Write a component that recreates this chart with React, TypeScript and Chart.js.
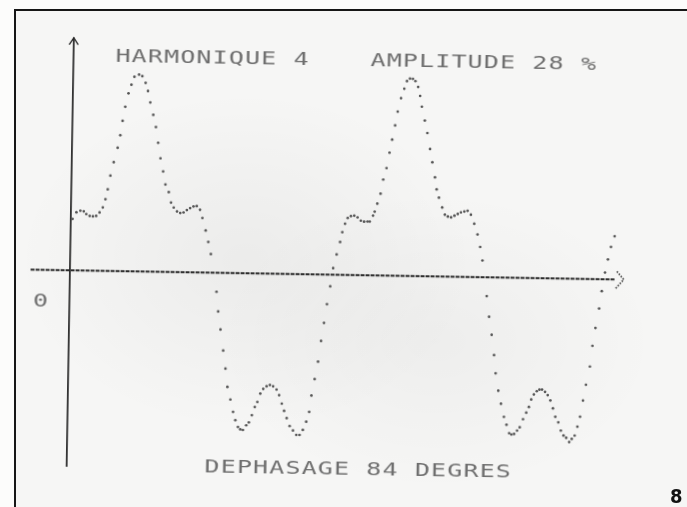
import { useEffect, useRef } from "react";
import { Chart, registerables } from "chart.js";

Chart.register(...registerables);

// ---- waveform samples: phase in degrees of the fundamental, value in % of its amplitude ----
const crest1Deg = [2.3, 7.3, 12.5, 17.0, 20.4, 24.9, 29.2, 33.5, 37.9, 42.1, 45.4, 48.2, 51.4, 55.5, 60.4, 63.6, 66.3, 69.5, 73.5, 77.2, 81.0, 87.1, 91.4, 95.9, 99.2, 102.5, 106.7, 110.5, 113.8, 117.2, 121.0, 124.3, 128.9, 132.1, 135.8, 140.2, 144.5, 148.9, 153.2, 157.5, 161.9, 166.2, 170.6, 173.9, 178.5, 182.2, 185.9];
const crest1Pct = [33.5, 37.8, 38.9, 38.5, 36.8, 35.6, 35.4, 35.7, 38.0, 41.3, 46.7, 53.1, 62.1, 70.9, 80.3, 88.5, 97.9, 107.1, 115.9, 121.5, 126.7, 128.2, 127.2, 122.9, 117.6, 110.2, 102.1, 94.2, 84.0, 73.9, 65.4, 56.9, 52.0, 45.2, 42.0, 39.5, 38.5, 38.9, 40.5, 41.8, 42.9, 43.2, 40.8, 35.5, 27.4, 20.0, 12.1];

const trough1Deg = [194.2, 196.8, 200.3, 204.3, 207.7, 210.7, 214.9, 218.7, 221.9, 225.5, 228.6, 232.1, 236.4, 239.8, 243.6, 247.3, 250.6, 254.3, 258.1, 262.5, 266.8, 271.1, 275.7, 279.2, 282.9, 286.1, 289.7, 293.8, 298.3, 302.8, 307.1, 311.3, 315.6, 319.3, 321.9, 325.8, 329.9, 333.4, 336.9, 340.4, 344.3, 347.8, 352.1];
const trough1Pct = [-12.4, -25.2, -36.9, -50.6, -62.3, -74.2, -82.4, -90.4, -95.8, -100.2, -101.7, -102.1, -99.0, -97.1, -92.4, -87.0, -83.7, -78.2, -75.1, -73.4, -72.5, -73.3, -75.4, -79.0, -84.5, -89.2, -93.9, -99.0, -101.9, -104.7, -104.7, -101.4, -96.0, -89.6, -78.9, -68.2, -56.8, -43.3, -31.5, -19.3, -7.6, 4.3, 13.2];

const crest2Deg = [356.4, 359.1, 362.5, 365.9, 370.1, 374.5, 378.9, 383.3, 387.6, 392.1, 395.1, 399.3, 401.4, 404.7, 408.8, 412.0, 416.1, 419.7, 422.9, 426.5, 429.6, 433.7, 437.8, 441.2, 445.1, 449.0, 452.4, 456.1, 458.9, 461.4, 465.6, 469.3, 473.2, 476.5, 480.3, 482.8, 486.0, 490.5, 494.2, 498.2, 502.5, 506.9, 511.2, 515.4, 519.9, 524.2, 528.6, 533.2, 537.8, 541.6, 544.9];
const crest2Pct = [21.4, 27.8, 33.3, 37.1, 38.4, 38.7, 37.6, 35.5, 34.9, 35.0, 35.0, 38.9, 41.5, 46.8, 53.3, 62.5, 70.0, 80.1, 88.6, 97.9, 106.9, 115.7, 121.9, 126.9, 128.6, 128.4, 127.0, 123.2, 117.4, 110.4, 101.4, 93.3, 82.9, 74.3, 64.5, 56.7, 51.3, 45.0, 40.3, 39.1, 38.6, 39.8, 40.9, 42.0, 42.6, 43.1, 40.6, 34.7, 27.8, 19.7, 10.9];

const trough2Deg = [551.3, 554.9, 558.7, 562.3, 564.8, 568.7, 572.5, 576.7, 580.3, 584.0, 587.0, 590.5, 594.4, 597.8, 602.0, 606.1, 609.5, 612.4, 615.8, 619.6, 623.1, 626.5, 630.5, 634.1, 637.7, 641.3, 644.6, 648.7, 652.2, 655.9, 659.5, 663.5, 666.8, 670.6, 674.0, 677.3, 680.8, 684.4, 689.2, 692.1, 695.7, 700.1, 703.2, 707.1, 710.7, 714.4, 719.0];
const trough2Pct = [-12.3, -25.7, -37.4, -50.6, -62.4, -73.7, -82.2, -90.7, -95.8, -101.3, -102.1, -101.7, -99.5, -97.3, -92.0, -87.7, -84.0, -79.1, -75.8, -73.6, -72.6, -72.5, -74.0, -76.1, -79.5, -84.6, -90.1, -93.7, -99.0, -102.2, -103.7, -106.4, -104.3, -102.1, -96.3, -89.8, -79.2, -68.9, -57.0, -43.5, -31.8, -19.1, -7.8, 4.4, 13.0, 21.1, 28.1];

// ---- printed captions ----
const captionHarmonic = "HARMONIQUE 4";
const captionAmplitude = "AMPLITUDE 28 %";
const captionPhase = "DEPHASAGE 84 DEGRES";
const originLabel = "0";
const pageNumber = "8";

// caption anchors (left edge / baseline) in data units
const harmonicAt = { deg: 55.5, pct: 136.3 };
const amplitudeAt = { deg: 392.6, pct: 136.3 };
const phaseAt = { deg: 182.2, pct: -129.9 };
const originAt = { deg: -37.5, pct: -24.2 };

// axis extents in data units
const AXIS_X_FROM = -52;
const AXIS_X_TO = 732;
const AXIS_Y_FROM = -128;
const AXIS_Y_TO = 151.5;

// visible window of the plot
const X_MIN = -87.1;
const X_MAX = 810.2;
const Y_MIN = -151.6;
const Y_MAX = 173.4;

const W = 687;
const H = 507;
const ORIGIN_PX = { x: 66.7, y: 270.5 };
const SKEW_DEG = 0.963;

const FONT_PX = 18.5;
const STRETCH = 1.35;
const SPACING = 0.85;
const INK = "#6e6e6e";

function toPoints(xs: number[], ys: number[]) {
  return xs.map((x, i) => ({ x, y: ys[i] }));
}

function printText(
  ctx: CanvasRenderingContext2D,
  text: string,
  x: number,
  baseline: number,
  align: "left" | "center" = "left"
) {
  ctx.save();
  ctx.font = `${FONT_PX}px "DejaVu Sans Mono", monospace`;
  ctx.fillStyle = INK;
  ctx.textBaseline = "alphabetic";
  ctx.textAlign = align;
  ctx.translate(x, baseline);
  ctx.scale(STRETCH, 1);
  (ctx as any).letterSpacing = `${SPACING}px`;
  ctx.fillText(text, 0, 0);
  ctx.restore();
}

const printoutPlugin = {
  id: "printout",
  beforeDatasetsDraw(chart: any) {
    const { ctx } = chart;
    const sx = chart.scales.x;
    const sy = chart.scales.y;
    const y0 = sy.getPixelForValue(0);
    const x0 = sx.getPixelForValue(0);

    // horizontal axis, dense dashes
    ctx.save();
    ctx.strokeStyle = "#2a2a2a";
    ctx.lineWidth = 2.2;
    ctx.setLineDash([4, 1]);
    ctx.beginPath();
    ctx.moveTo(sx.getPixelForValue(AXIS_X_FROM), y0);
    ctx.lineTo(sx.getPixelForValue(AXIS_X_TO) - 9, y0);
    ctx.stroke();

    // arrow head of the horizontal axis
    const tip = sx.getPixelForValue(AXIS_X_TO);
    ctx.setLineDash([1.6, 1.4]);
    ctx.lineWidth = 1.8;
    ctx.strokeStyle = "#4a4a4a";
    ctx.beginPath();
    ctx.moveTo(tip - 7, y0 - 8);
    ctx.lineTo(tip, y0);
    ctx.lineTo(tip - 8, y0 + 9);
    ctx.stroke();
    ctx.restore();

    // vertical axis
    const top = sy.getPixelForValue(AXIS_Y_TO);
    ctx.save();
    ctx.strokeStyle = "#252525";
    ctx.lineWidth = 1.7;
    ctx.beginPath();
    ctx.moveTo(x0, sy.getPixelForValue(AXIS_Y_FROM));
    ctx.lineTo(x0, top);
    ctx.stroke();
    ctx.lineWidth = 1.3;
    ctx.beginPath();
    ctx.moveTo(x0 - 4.5, top + 7);
    ctx.lineTo(x0, top);
    ctx.lineTo(x0 + 4.5, top + 7);
    ctx.stroke();
    ctx.restore();
  },
  afterDatasetsDraw(chart: any) {
    const { ctx } = chart;
    const sx = chart.scales.x;
    const sy = chart.scales.y;
    printText(ctx, captionHarmonic, sx.getPixelForValue(harmonicAt.deg), sy.getPixelForValue(harmonicAt.pct));
    printText(ctx, captionAmplitude, sx.getPixelForValue(amplitudeAt.deg), sy.getPixelForValue(amplitudeAt.pct));
    printText(ctx, captionPhase, sx.getPixelForValue(phaseAt.deg), sy.getPixelForValue(phaseAt.pct));
    printText(ctx, originLabel, sx.getPixelForValue(originAt.deg), sy.getPixelForValue(originAt.pct), "center");
  },
};

export default function App() {
  const canvasRef = useRef<HTMLCanvasElement | null>(null);

  useEffect(() => {
    const canvas = canvasRef.current;
    if (!canvas) return;
    const points = [
      ...toPoints(crest1Deg, crest1Pct),
      ...toPoints(trough1Deg, trough1Pct),
      ...toPoints(crest2Deg, crest2Pct),
      ...toPoints(trough2Deg, trough2Pct),
    ];
    const chart = new Chart(canvas, {
      type: "scatter",
      data: {
        datasets: [
          {
            data: points,
            pointRadius: 1.35,
            pointBorderWidth: 0,
            pointBackgroundColor: "#555555",
            showLine: false,
          },
        ],
      },
      options: {
        animation: false,
        responsive: false,
        maintainAspectRatio: false,
        devicePixelRatio: 1,
        events: [],
        layout: { padding: 0 },
        plugins: {
          legend: { display: false },
          tooltip: { enabled: false },
          title: { display: false },
        },
        scales: {
          x: { type: "linear", min: X_MIN, max: X_MAX, display: false },
          y: { type: "linear", min: Y_MIN, max: Y_MAX, display: false },
        },
      },
      plugins: [printoutPlugin],
    });
    return () => chart.destroy();
  }, []);

  return (
    <div
      style={{
        position: "fixed",
        left: 0,
        top: 0,
        width: W,
        height: H,
        overflow: "hidden",
        background: "#fcfcfb",
      }}
    >
      <div
        style={{
          position: "absolute",
          left: 14,
          top: 9,
          width: W + 20,
          height: H + 20,
          borderTop: "2.5px solid #161616",
          borderLeft: "2.5px solid #161616",
          background:
            "radial-gradient(ellipse 230px 170px at 230px 250px, rgba(0,0,0,0.045), rgba(0,0,0,0)), radial-gradient(ellipse 220px 150px at 420px 330px, rgba(0,0,0,0.035), rgba(0,0,0,0)), #f6f6f5",
        }}
      />
      <canvas
        ref={canvasRef}
        width={W}
        height={H}
        style={{
          position: "absolute",
          left: 0,
          top: 0,
          width: W,
          height: H,
          transform: `rotate(${SKEW_DEG}deg)`,
          transformOrigin: `${ORIGIN_PX.x}px ${ORIGIN_PX.y}px`,
        }}
      />
      <div
        style={{
          position: "absolute",
          left: 670,
          top: 486,
          fontFamily: '"DejaVu Sans Condensed", "DejaVu Sans", sans-serif',
          fontWeight: "bold",
          fontSize: 20,
          lineHeight: "20px",
          color: "#111",
        }}
      >
        {pageNumber}
      </div>
    </div>
  );
}
